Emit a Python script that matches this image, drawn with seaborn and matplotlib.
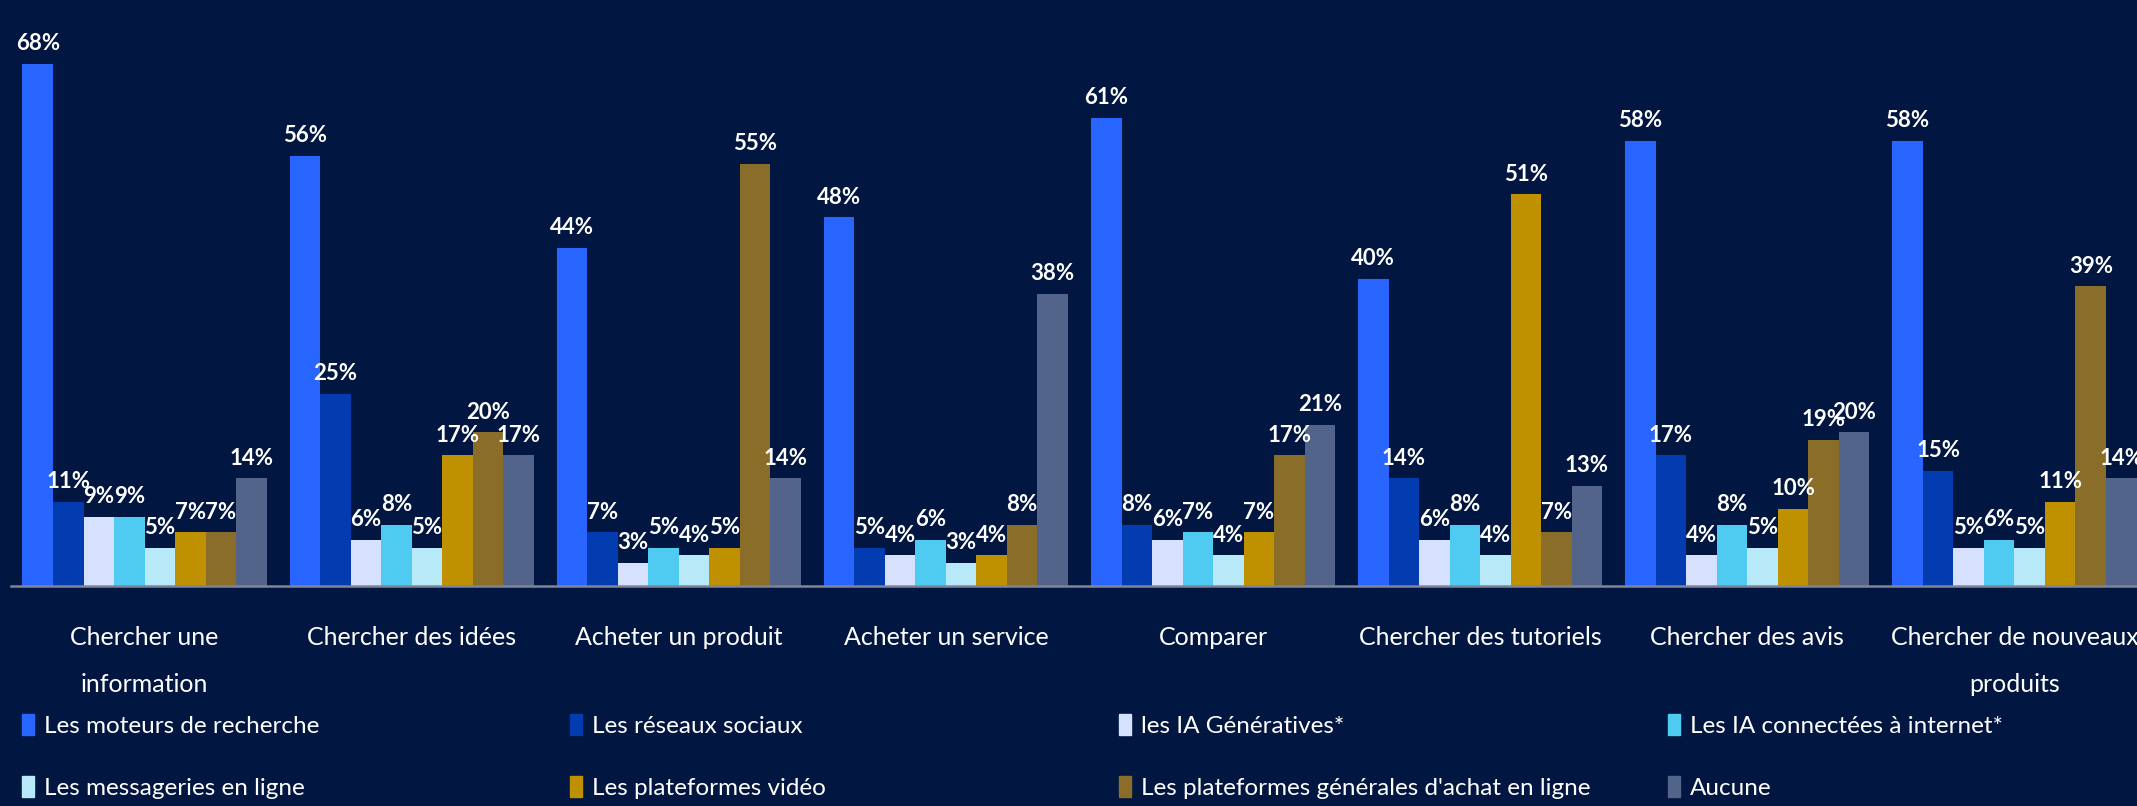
import matplotlib
matplotlib.use("Agg")
import matplotlib.pyplot as plt
import seaborn as sns
import pandas as pd

categories = ["Chercher une\ninformation", "Chercher des idées", "Acheter un produit",
              "Acheter un service", "Comparer", "Chercher des tutoriels",
              "Chercher des avis", "Chercher de nouveaux\nproduits"]
series = ["Les moteurs de recherche", "Les réseaux sociaux", "les IA Génératives*",
          "Les IA connectées à internet*", "Les messageries en ligne",
          "Les plateformes vidéo", "Les plateformes générales d'achat en ligne", "Aucune"]
moteurs = [68, 56, 44, 48, 61, 40, 58, 58]
reseaux = [11, 25, 7, 5, 8, 14, 17, 15]
ia_gen = [9, 6, 3, 4, 6, 6, 4, 5]
ia_connect = [9, 8, 5, 6, 7, 8, 8, 6]
messageries = [5, 5, 4, 3, 4, 4, 5, 5]
videos = [7, 17, 5, 4, 7, 51, 10, 11]
achat = [7, 20, 55, 8, 17, 7, 19, 39]
aucune = [14, 17, 14, 38, 21, 13, 20, 14]
values = [moteurs, reseaux, ia_gen, ia_connect, messageries, videos, achat, aucune]
colors = ["#2966FF", "#023CB0", "#D6E0FF", "#4FCBF2", "#B8E9F8", "#BF9000", "#8A6D29", "#53648A"]

BG = "#011640"
sns.set_theme(style="white")
plt.rcParams["font.family"] = ["Lato", "DejaVu Sans"]

rows = []
for s, vals in zip(series, values):
    for c, v in zip(categories, vals):
        rows.append({"cat": c, "series": s, "val": v})
df = pd.DataFrame(rows)

W, H = 2137, 806
fig = plt.figure(figsize=(W / 100, H / 100), dpi=100, facecolor=BG)
ax = fig.add_axes([11 / W, 1 - 586 / H, (2148 - 11) / W, 586 / H])
ax.set_facecolor(BG)

sns.barplot(data=df, x="cat", y="val", hue="series", hue_order=series, order=categories,
            palette=colors, width=0.914, saturation=1, legend=False, ax=ax, errorbar=None,
            linewidth=0, edgecolor="none")

for cont in ax.containers:
    ax.bar_label(cont, labels=[f"{int(round(b.get_height()))}%" for b in cont],
                 padding=7, color="white", fontsize=16, fontweight="bold")

ax.set_xlim(-0.5, 7.5)
ax.set_ylim(0, 76.3)
ax.set_xlabel("")
ax.set_ylabel("")
ax.set_yticks([])
for s in ["top", "right", "left"]:
    ax.spines[s].set_visible(False)
ax.spines["bottom"].set_color("#7F8596")
ax.spines["bottom"].set_linewidth(1.8)
ax.tick_params(axis="x", length=0, pad=29, colors="white", labelsize=18)
for t in ax.get_xticklabels():
    t.set_linespacing(2.25)
    t.set_verticalalignment("top")

col_x = [22, 570, 1119, 1668]
for j in range(4):
    handles = [plt.Rectangle((0, 0), 1, 1, color=colors[j]), plt.Rectangle((0, 0), 1, 1, color=colors[j + 4])]
    labels = [series[j], series[j + 4]]
    fig.legend(handles, labels, loc="upper left", bbox_to_anchor=(col_x[j] / W, 1 - 714 / H),
               frameon=False, fontsize=17.5, labelcolor="white", handlelength=0.5,
               handleheight=0.95, handletextpad=0.4, labelspacing=1.6,
               borderaxespad=0, borderpad=0)

fig.savefig("out.png", dpi=100, facecolor=BG)
